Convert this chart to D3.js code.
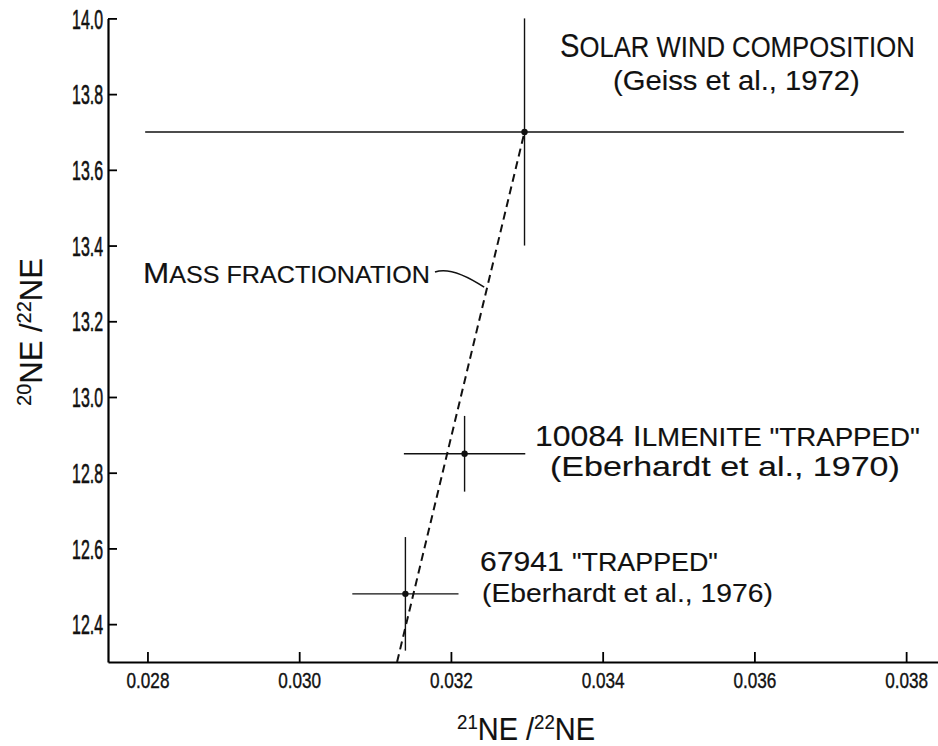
<!DOCTYPE html>
<html>
<head>
<meta charset="utf-8">
<script src="https://cdn.jsdelivr.net/npm/d3@7"></script>
<style>
  body { margin: 0; background: #fff; }
  svg { display: block; }
  text { font-family: "Liberation Sans", Arial, sans-serif; fill: #111; stroke: #111; stroke-width: 0.15; }
</style>
</head>
<body>
<div id="chart"></div>
<script>
// Neon isotope ratios (21Ne/22Ne, 20Ne/22Ne) with error bars
const samples = ["Solar wind", "10084 ilmenite", "67941"];
const ne21 = [0.03297, 0.03218, 0.0314];
const ne21Err = [0.0050, 0.0008, 0.0007];
const ne20 = [13.70, 12.85, 12.48];
const ne20Err = [0.30, 0.10, 0.15];

// mass fractionation line end points
const fracX = [0.03129, 0.03297];
const fracY = [12.30, 13.70];

const xTicks = [0.028, 0.030, 0.032, 0.034, 0.036, 0.038];
const yTicks = [12.4, 12.6, 12.8, 13.0, 13.2, 13.4, 13.6, 13.8, 14.0];

const W = 938, H = 746;

const svg = d3.select("#chart").append("svg")
    .attr("width", W)
    .attr("height", H);

const x = d3.scaleLinear().domain([0.02748, 0.03842]).range([108, 938]);
const y = d3.scaleLinear().domain([12.3, 14.0]).range([662, 18.4]);

// squeeze a text horizontally to a given width around its anchor x
function fit(node, len, ax) {
    const w = node.getComputedTextLength();
    const s = len / w;
    d3.select(node).attr("transform", `translate(${ax},0) scale(${s},1) translate(${-ax},0)`);
}

// axes
const yAxis = svg.append("g")
    .attr("transform", "translate(108,0)")
    .call(d3.axisLeft(y).tickValues(yTicks).tickFormat(d3.format(".1f"))
        .tickSizeInner(-9).tickSizeOuter(0).tickPadding(5))
    .attr("font-size", null).attr("font-family", null);
yAxis.select(".domain").attr("stroke-width", 2.2);
yAxis.selectAll(".tick line").attr("stroke-width", 1.8);
yAxis.selectAll(".tick text")
    .attr("font-size", 27)
    .attr("dy", "0.36em")
    .style("stroke-width", 0.6)
    .each(function () { fit(this, 31, -5); });

const xAxis = svg.append("g")
    .attr("transform", "translate(0,662)")
    .call(d3.axisBottom(x).tickValues(xTicks).tickFormat(d3.format(".3f"))
        .tickSizeInner(-10).tickSizeOuter(0).tickPadding(10))
    .attr("font-size", null).attr("font-family", null);
xAxis.select(".domain").attr("stroke-width", 2.2);
xAxis.selectAll(".tick line").attr("stroke-width", 1.8);
xAxis.selectAll(".tick text")
    .attr("font-size", 22)
    .style("stroke-width", 0.4)
    .each(function () { fit(this, 43, 0); });

// error bars
const pts = samples.map((s, i) => ({ name: s, x: ne21[i], xe: ne21Err[i], y: ne20[i], ye: ne20Err[i] }));

svg.append("g").selectAll("line")
    .data(pts).enter().append("line")
    .attr("x1", d => x(d.x - d.xe))
    .attr("x2", d => x(d.x + d.xe))
    .attr("y1", d => y(d.y))
    .attr("y2", d => y(d.y))
    .attr("stroke", "#111").attr("stroke-width", 1.4);

svg.append("g").selectAll("line")
    .data(pts).enter().append("line")
    .attr("x1", d => x(d.x))
    .attr("x2", d => x(d.x))
    .attr("y1", d => y(d.y - d.ye))
    .attr("y2", d => y(d.y + d.ye))
    .attr("stroke", "#111").attr("stroke-width", 1.4);

// mass fractionation line
const frac = fracX.map((v, i) => [v, fracY[i]]);
svg.append("path")
    .datum(frac)
    .attr("fill", "none")
    .attr("stroke", "#111")
    .attr("stroke-width", 2)
    .attr("stroke-dasharray", "8,5")
    .attr("d", d3.line().x(d => x(d[0])).y(d => y(d[1])));

svg.append("g").selectAll("circle")
    .data(pts).enter().append("circle")
    .attr("cx", d => x(d.x))
    .attr("cy", d => y(d.y))
    .attr("r", 3.2)
    .attr("fill", "#111");

// labels: parts = [text, fontSize, dy]
function label(parts, px, py, len, anchor, rotate) {
    const g = svg.append("g");
    if (rotate) g.attr("transform", rotate);
    const t = g.append("text")
        .attr("x", px).attr("y", py)
        .attr("text-anchor", anchor || "start");
    parts.forEach(p => {
        t.append("tspan").attr("font-size", p[1]).attr("dy", p[2] || 0).text(p[0]);
    });
    if (len) fit(t.node(), len, px);
    return t;
}

label([["S", 33], ["OLAR WIND COMPOSITION", 29]], 560, 57, 355);
label([["(Geiss et al., 1972)", 28]], 613, 90, 247);

label([["M", 30], ["ASS FRACTIONATION", 24]], 143, 283, 287);

label([["10084 I", 30], ["LMENITE \"TRAPPED\"", 26]], 535, 446, 385);
label([["(Eberhardt et al., 1970)", 27]], 550, 476, 350);

label([["67941 ", 28], ["\"TRAPPED\"", 25]], 480, 571, 238);
label([["(Eberhardt et al., 1976)", 26]], 482, 602, 291);

// leader from the label to the fractionation line
const leadY = 13.29;
const leadX = fracX[0] + (fracX[1] - fracX[0]) * (leadY - fracY[0]) / (fracY[1] - fracY[0]);
const sx = 143 + 287 + 5, sy = 272;
const ex = x(leadX) - 3, ey = y(leadY);
svg.append("path")
    .attr("fill", "none")
    .attr("stroke", "#111")
    .attr("stroke-width", 1.6)
    .attr("d", `M${sx},${sy} Q${sx + 17},${sy - 6} ${ex},${ey}`);

// axis titles
label([["21", 20, -11], ["NE", 31, 11], [" /", 31], ["22", 20, -11], ["NE", 31, 11]],
    526, 740, 138, "middle");
label([["20", 20, -11], ["NE", 31, 11], [" /", 31], ["22", 20, -11], ["NE", 31, 11]],
    0, 0, 148, "middle", "translate(42,332) rotate(-90)");
</script>
</body>
</html>
